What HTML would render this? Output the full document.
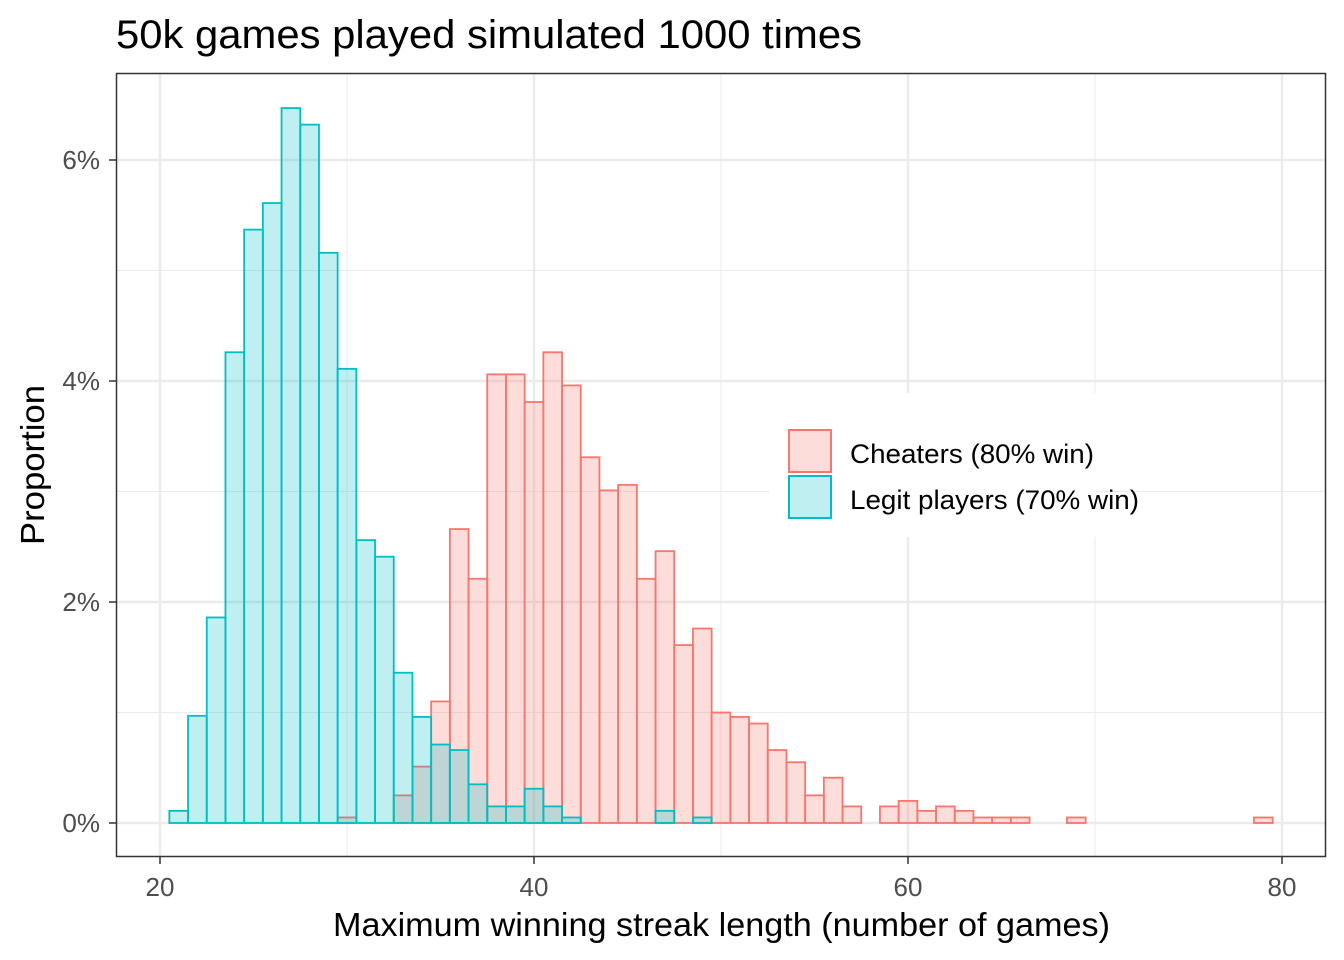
<!DOCTYPE html>
<html><head><meta charset="utf-8"><style>body{margin:0;background:#fff}svg{display:block;font-family:"Liberation Sans",Arial,sans-serif}</style></head>
<body>
<svg id="chart" width="1344" height="960" viewBox="0 0 1344 960">
<rect width="1344" height="960" fill="#fff"/>
<text x="116" y="48" font-size="40" fill="#000" textLength="746" lengthAdjust="spacingAndGlyphs">50k games played simulated 1000 times</text>
<g id="grid"></g>
<g id="bars"></g>
<rect x="116.5" y="73.5" width="1209" height="783" fill="none" stroke="#333" stroke-width="1.5"/>
<g id="axes"></g>
<text x="333" y="936" font-size="33" textLength="777" lengthAdjust="spacingAndGlyphs">Maximum winning streak length (number of games)</text>
<text transform="translate(44,545) rotate(-90)" font-size="33" textLength="160" lengthAdjust="spacingAndGlyphs">Proportion</text>
<g>
<rect x="769" y="393" width="327" height="144" fill="#fff"/>
<rect x="789" y="430" width="42" height="42" fill="rgba(248,118,109,0.25)" stroke="#F8766D" stroke-width="2"/>
<rect x="789" y="476" width="42" height="42" fill="rgba(0,191,196,0.25)" stroke="#00BFC4" stroke-width="2"/>
<text x="850" y="463" font-size="27" textLength="244" lengthAdjust="spacingAndGlyphs">Cheaters (80% win)</text>
<text x="850" y="509" font-size="27" textLength="289" lengthAdjust="spacingAndGlyphs">Legit players (70% win)</text>
</g>
</svg>
<script>
const legitX=[21,22,23,24,25,26,27,28,29,30,31,32,33,34,35,36,37,38,39,40,41,42,47,49];
const legitY=[0.11,0.97,1.86,4.26,5.37,5.61,6.47,6.32,5.16,4.11,2.56,2.41,1.36,0.96,0.71,0.66,0.35,0.15,0.15,0.31,0.15,0.05,0.11,0.05];
const cheatX=[30,33,34,35,36,37,38,39,40,41,42,43,44,45,46,47,48,49,50,51,52,53,54,55,56,57,59,60,61,62,63,64,65,66,69,79];
const cheatY=[0.05,0.25,0.51,1.1,2.66,2.21,4.06,4.06,3.81,4.26,3.96,3.31,3.01,3.06,2.21,2.46,1.61,1.76,1.0,0.96,0.9,0.66,0.55,0.25,0.41,0.15,0.15,0.2,0.11,0.15,0.11,0.05,0.05,0.05,0.05,0.05];
const xTicks=[20,40,60,80];
const yTicks=[0,2,4,6];
const xMinor=[30,50,70];
const yMinor=[1,3,5];
const sx=v=>160+(v-20)*18.7;
const sy=v=>823-v*110.5;
const NS="http://www.w3.org/2000/svg";
function mk(tag,attrs,parent){const e=document.createElementNS(NS,tag);for(const k in attrs)e.setAttribute(k,attrs[k]);parent.appendChild(e);return e;}
const grid=document.getElementById('grid'),bars=document.getElementById('bars'),axes=document.getElementById('axes');
mk('rect',{x:116,y:73,width:1210,height:784,fill:'#fff'},grid);
xMinor.forEach(v=>{const l=mk('line',{x1:sx(v),x2:sx(v),y1:74,y2:856,stroke:'#ebebeb','stroke-width':1},grid);});
yMinor.forEach(v=>{const l=mk('line',{x1:117,x2:1325,y1:sy(v),y2:sy(v),stroke:'#ebebeb','stroke-width':1},grid);});
xTicks.forEach(v=>{const l=mk('line',{x1:sx(v),x2:sx(v),y1:74,y2:856,stroke:'#ebebeb','stroke-width':2.5},grid);
const t=mk('line',{x1:sx(v),x2:sx(v),y1:857,y2:864,stroke:'#333','stroke-width':1.5},axes);
const tx=mk('text',{x:sx(v),y:896,'font-size':26,fill:'#4d4d4d','text-anchor':'middle'},axes);tx.textContent=v;});
yTicks.forEach(v=>{const l=mk('line',{x1:117,x2:1325,y1:sy(v),y2:sy(v),stroke:'#ebebeb','stroke-width':2.5},grid);
const t=mk('line',{x1:109,x2:116,y1:sy(v),y2:sy(v),stroke:'#333','stroke-width':1.5},axes);
const tx=mk('text',{x:100,y:sy(v)+9,'font-size':26,fill:'#4d4d4d','text-anchor':'end'},axes);tx.textContent=v+'%';});
const w=18.7;
cheatX.forEach((x,i)=>{const r=mk('rect',{x:sx(x)-w/2,y:sy(cheatY[i]),width:w,height:sy(0)-sy(cheatY[i]),fill:'rgba(248,118,109,0.25)',stroke:'#F8766D','stroke-width':1.8},bars);});
legitX.forEach((x,i)=>{const r=mk('rect',{x:sx(x)-w/2,y:sy(legitY[i]),width:w,height:sy(0)-sy(legitY[i]),fill:'rgba(0,191,196,0.25)',stroke:'#00BFC4','stroke-width':1.8},bars);});
</script>
</body></html>
